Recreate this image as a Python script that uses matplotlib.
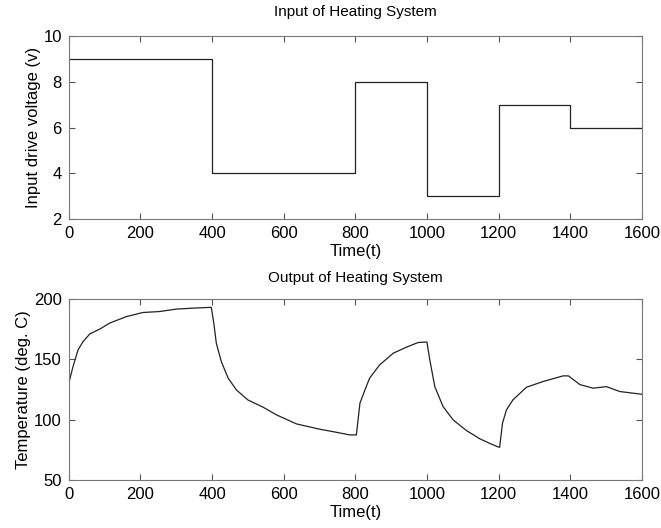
import numpy as np
import matplotlib.pyplot as plt

plt.rcParams['font.family'] = ['Liberation Sans', 'DejaVu Sans']

# input voltage steps
step_t = [0, 400, 400, 800, 800, 1000, 1000, 1200, 1200, 1400, 1400, 1600]
step_v = [9, 9, 4, 4, 8, 8, 3, 3, 7, 7, 6, 6]

# output temperature
out_t = [0, 12, 26, 40, 59, 87, 114, 161, 207, 254, 300, 347, 398,
         405, 412, 426, 445, 468, 500, 543, 580, 636, 701, 738, 785, 801,
         803, 813, 827, 840, 868, 906, 943, 975, 1000,
         1008, 1022, 1045, 1073, 1110, 1147, 1176, 1201,
         1203, 1211, 1222, 1240, 1278, 1324, 1380, 1395,
         1427, 1464, 1501, 1539, 1600]
out_temp = [130, 144, 157.7, 164.6, 171, 175, 179.9, 185.3, 188.7, 189.5, 191.5, 192.3, 193,
            179.9, 163.3, 148, 134.3, 124.6, 116.3, 110.2, 103.9, 96.4, 92, 90, 87.3, 87.3,
            87.3, 113.6, 124.6, 134.3, 145.3, 155, 160, 163.8, 164.3,
            149.5, 127.3, 110.8, 99.8, 91, 84.2, 80.2, 77.1,
            77.1, 97, 108, 116.3, 126.8, 131.5, 136.2, 136.2,
            129, 126, 127.3, 123.2, 121]

fig = plt.figure(figsize=(6.61, 5.28), dpi=100)
ax1 = fig.add_axes([0.104, 0.585, 0.867, 0.347])
ax2 = fig.add_axes([0.104, 0.091, 0.867, 0.343])

ax1.plot(step_t, step_v, color='#222222', lw=0.9)
ax1.set_xlim(0, 1600)
ax1.set_ylim(2, 10)
ax1.set_yticks([2, 4, 6, 8, 10])
ax1.set_title('Input of Heating System', fontsize=11, pad=14)
ax1.set_xlabel('Time(t)', fontsize=12, labelpad=2)
ax1.set_ylabel('Input drive voltage (v)', fontsize=12, labelpad=2)

ax2.plot(out_t, out_temp, color='#222222', lw=0.9)
ax2.set_xlim(0, 1600)
ax2.set_ylim(50, 200)
ax2.set_yticks([50, 100, 150, 200])
ax2.set_title('Output of Heating System', fontsize=11, pad=12)
ax2.set_xlabel('Time(t)', fontsize=12, labelpad=2)
ax2.set_ylabel('Temperature (deg. C)', fontsize=12, labelpad=2)

for ax in (ax1, ax2):
    ax.set_xticks(np.arange(0, 1601, 200))
    ax.tick_params(direction='in', top=True, right=True, labelsize=12,
                   color='#555555', length=4, pad=5)
    for s in ax.spines.values():
        s.set_color('#777777')

fig.savefig('out.png', dpi=100)
